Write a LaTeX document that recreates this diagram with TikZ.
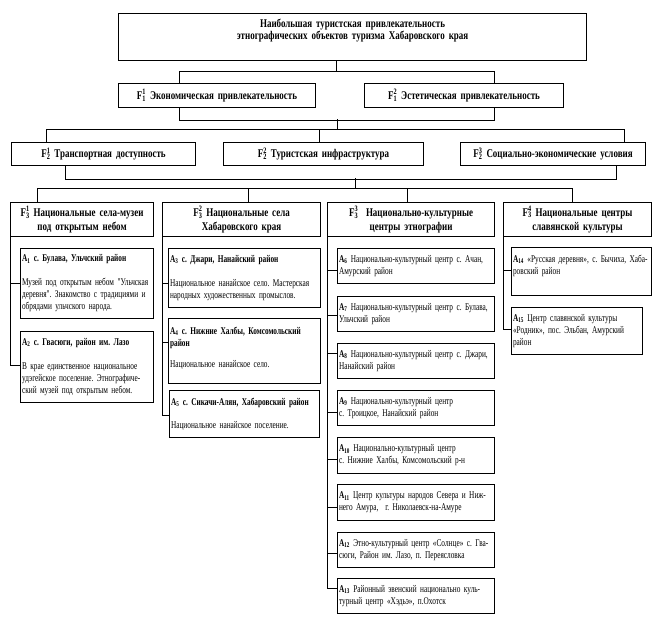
\documentclass[tikz,border=0pt]{standalone}
\usepackage{fontspec}
\setmainfont{Liberation Serif}[FakeStretch=0.76]
\newfontfamily\bodyfont{Liberation Serif}[FakeStretch=0.71]
\newcommand\Fsym[2]{F\makebox[0pt][l]{\textsubscript{#1}}\textsuperscript{#2}}
\newcommand\Asym[1]{A\textsubscript{#1}}
\newcommand\Ln[1]{\mbox{#1}}
\newcommand\fsz[2]{\fontsize{#1}{#2}\selectfont\frenchspacing}
\usetikzlibrary{calc}
\begin{document}
\begin{tikzpicture}[x=1pt,y=-1pt,
  conn/.style={line width=1pt},
  bx/.style={draw, line width=1.1pt, anchor=north west, inner xsep=1.5pt, inner ysep=0pt},
  hd/.style={bx, align=center, font=\fsz{11.8}{12}\bfseries},
  hd3/.style={bx, align=center, font=\fsz{11.8}{14}\bfseries},
  ab/.style={bx, align=left, font=\bodyfont\fsz{10.3}{12}}
]
\useasboundingbox (0,0) rectangle (659,622);
% level 0
\node[hd, minimum width=468pt, minimum height=47pt, text width=465pt] (title) at (118,13)
  {Наибольшая туристская привлекательность\\этнографических объектов туризма Хабаровского края\\[3pt]\mbox{}};
% level 1
\node[hd, minimum width=197pt, minimum height=24pt, text width=194pt] (f11) at (118,83)
  {\Fsym{1}{1} Экономическая привлекательность};
\node[hd, minimum width=199pt, minimum height=24pt, text width=196pt] (f12) at (364,83)
  {\Fsym{1}{2} Эстетическая привлекательность};
% level 2
\node[hd, minimum width=184pt, minimum height=23pt, text width=181pt] (f21) at (11,142)
  {\Fsym{2}{1} Транспортная доступность};
\node[hd, minimum width=200pt, minimum height=23pt, text width=197pt] (f22) at (223,142)
  {\Fsym{2}{2} Туристская инфраструктура};
\node[hd, minimum width=185pt, minimum height=23pt, text width=182pt] (f23) at (460,142)
  {\Fsym{2}{3} Социально-экономические условия};
% level 3
\node[hd3, minimum width=143pt, minimum height=34pt, text width=140pt] (f31) at (10,202)
  {\Fsym{3}{1} Национальные села-музеи\\под открытым небом};
\node[hd3, minimum width=158pt, minimum height=34pt, text width=155pt] (f32) at (162,202)
  {\Fsym{3}{2} Национальные села\\Хабаровского края};
\node[hd3, minimum width=167pt, minimum height=34pt, text width=164pt] (f33) at (327,202)
  {\Fsym{3}{3}\ \ Национально-культурные\\центры этнографии};
\node[hd3, minimum width=148pt, minimum height=34pt, text width=145pt] (f34) at (503,202)
  {\Fsym{3}{4} Национальные центры\\славянской культуры};
% column 1
\node[ab, minimum width=133pt, minimum height=70pt, text width=130pt] (a1) at (20,248)
  {\Ln{\textbf{\Asym{1} с. Булава, Ульчский район}}\\[12pt]\Ln{Музей под открытым небом "Ульчская}\\\Ln{деревня". Знакомство с традициями и}\\\Ln{обрядами ульчского народа.}};
\node[ab, minimum width=133pt, minimum height=71pt, text width=130pt] (a2) at (20,331)
  {\Ln{\textbf{\Asym{2} с. Гвасюги, район им. Лазо}}\\[12pt]\Ln{В крае единственное национальное}\\\Ln{удэгейское поселение. Этнографиче-}\\\Ln{ский музей под открытым небом.}};
% column 2
\node[ab, minimum width=152pt, minimum height=59pt, text width=149pt] (a3) at (168,248)
  {\Ln{\textbf{\Asym{3} с. Джари, Нанайский район}}\\[12pt]\Ln{Национальное нанайское село. Мастерская}\\\Ln{народных художественных промыслов.}};
\node[ab, minimum width=152pt, minimum height=65pt, text width=149pt] (a4) at (168,318)
  {\Ln{\textbf{\Asym{4} с. Нижние Халбы, Комсомольский}}\\\textbf{район}\\[9pt]\Ln{Национальное нанайское село.}\\[-4pt]\mbox{}};
\node[ab, minimum width=150pt, minimum height=47pt, text width=147pt] (a5) at (169,390)
  {\Ln{\textbf{\Asym{5} с. Сикачи-Алян, Хабаровский район}}\\[11pt]\Ln{Национальное нанайское поселение.}};
% column 3
\node[ab, minimum width=157pt, minimum height=35pt, text width=154pt] (a6) at (337,248)
  {\Ln{\textbf{\Asym{6}} Национально-культурный центр с. Ачан,}\\\Ln{Амурский район}};
\node[ab, minimum width=157pt, minimum height=35pt, text width=154pt] (a7) at (337,296)
  {\Ln{\textbf{\Asym{7}} Национально-культурный центр с. Булава,}\\\Ln{Ульчский район}};
\node[ab, minimum width=157pt, minimum height=35pt, text width=154pt] (a8) at (337,343)
  {\Ln{\textbf{\Asym{8}} Национально-культурный центр с. Джари,}\\\Ln{Нанайский район}};
\node[ab, minimum width=157pt, minimum height=35pt, text width=154pt] (a9) at (337,390)
  {\Ln{\textbf{\Asym{9}} Национально-культурный центр}\\\Ln{с. Троицкое, Нанайский район}};
\node[ab, minimum width=157pt, minimum height=36pt, text width=154pt] (a10) at (337,437)
  {\Ln{\textbf{\Asym{10}} Национально-культурный центр}\\\Ln{с. Нижние Халбы, Комсомольский р-н}};
\node[ab, minimum width=157pt, minimum height=36pt, text width=154pt] (a11) at (337,484)
  {\Ln{\textbf{\Asym{11}} Центр культуры народов Севера и Ниж-}\\\Ln{него Амура,\ \ г. Николаевск-на-Амуре}};
\node[ab, minimum width=157pt, minimum height=35pt, text width=154pt] (a12) at (337,532)
  {\Ln{\textbf{\Asym{12}} Этно-культурный центр «Солнце» с. Гва-}\\\Ln{сюги, Район им. Лазо, п. Переясловка}};
\node[ab, minimum width=157pt, minimum height=35pt, text width=154pt] (a13) at (337,578)
  {\Ln{\textbf{\Asym{13}} Районный эвенский национально куль-}\\\Ln{турный центр «Хэдьэ», п.Охотск}};
% column 4
\node[ab, minimum width=140pt, minimum height=48pt, text width=137pt] (a14) at (511,247)
  {\Ln{\textbf{\Asym{14}} «Русская деревня», с. Бычиха, Хаба-}\\\Ln{ровский район}\\[2pt]\mbox{}};
\node[ab, minimum width=131pt, minimum height=47pt, text width=128pt] (a15) at (511,307)
  {\Ln{\textbf{\Asym{15}} Центр славянской культуры}\\\Ln{«Родник», пос. Эльбан, Амурский}\\\Ln{район}};
% junctions
\coordinate (j1) at (336,71);
\coordinate (j2) at (337,119);
\coordinate (j3) at (337,129);
\coordinate (j4) at (355,178);
\coordinate (j5) at (355,188);
% connectors level 0-1
\draw[conn] (title.south -| j1) -- (j1);
\draw[conn] ([xshift=61pt]f11.north west) -- ++(0,-12) -| ([xshift=130pt]f12.north west);
% level 1-2
\draw[conn] ([xshift=61pt]f11.south west) -- ++(0,12) -| ([xshift=130pt]f12.south west);
\draw[conn] (j2) -- (j3);
\draw[conn] ([xshift=35pt]f21.north west) -- ++(0,-13) -| ([xshift=164pt]f23.north west);
\draw[conn] ([xshift=96pt]f22.north west) -- ++(0,-13);
% level 2-3
\draw[conn] ([xshift=54pt]f21.south west) -- ++(0,13) -| ([xshift=156pt]f23.south west);
\draw[conn] (j4) -- (j5);
\draw[conn] ([xshift=27pt]f31.north west) -- ++(0,-14) -| ([xshift=69pt]f34.north west);
\draw[conn] ([xshift=86pt]f32.north west) -- ++(0,-14);
\draw[conn] ([xshift=80pt]f33.north west) -- ++(0,-14);
% column spines
\draw[conn] (f31.south west) |- ([yshift=-35pt]a1.north west);
\draw[conn] (f31.south west) |- ([yshift=-34pt]a2.north west);
\draw[conn] (f32.south west) |- ([yshift=-35pt]a3.north west);
\draw[conn] (f32.south west) |- ([yshift=-24pt]a4.north west);
\draw[conn] (f32.south west) |- ([yshift=-25pt]a5.north west);
\draw[conn] (f33.south west) |- ([yshift=-22pt]a6.north west);
\draw[conn] (f33.south west) |- ([yshift=-19pt]a7.north west);
\draw[conn] (f33.south west) |- ([yshift=-10pt]a8.north west);
\draw[conn] (f33.south west) |- ([yshift=-22pt]a9.north west);
\draw[conn] (f33.south west) |- ([yshift=-22pt]a10.north west);
\draw[conn] (f33.south west) |- ([yshift=-23pt]a11.north west);
\draw[conn] (f33.south west) |- ([yshift=-21pt]a12.north west);
\draw[conn] (f33.south west) |- ([yshift=-10pt]a13.north west);
\draw[conn] (f34.south west) |- ([yshift=-23pt]a14.north west);
\draw[conn] (f34.south west) |- ([yshift=-22pt]a15.north west);
\end{tikzpicture}
\end{document}
